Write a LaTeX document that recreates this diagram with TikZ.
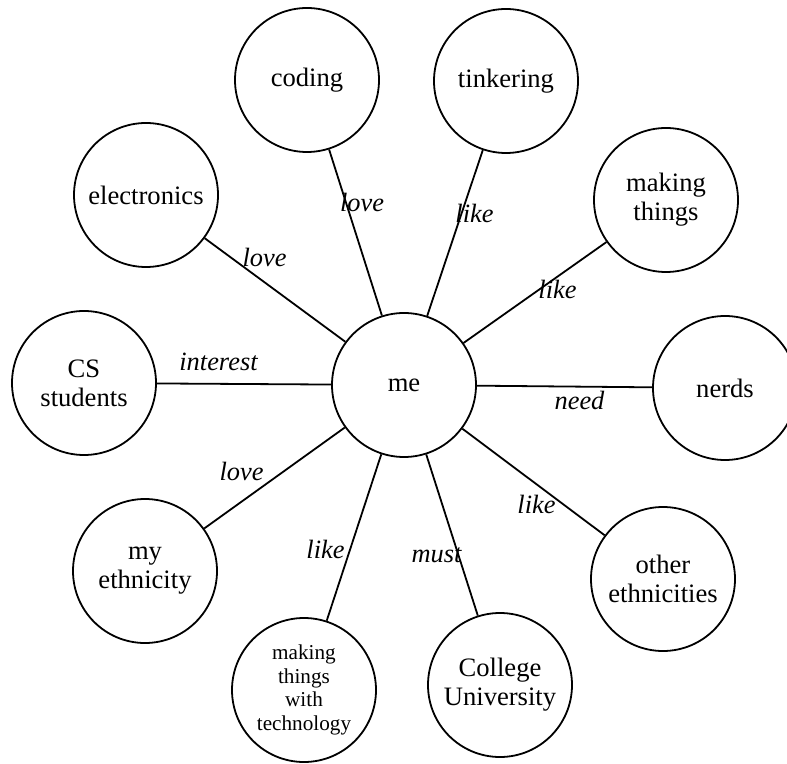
\documentclass[tikz,border=0pt]{standalone}
\usepackage{fontspec}
\setmainfont{Liberation Serif}
\begin{document}
\begin{tikzpicture}[x=0.5pt,y=-0.5pt,
  concept/.style={circle,draw,line width=0.9pt,minimum size=72pt,inner sep=0pt,
    align=center,font=\fontsize{13.3}{14.6}\selectfont},
  smallconcept/.style={concept,font=\fontsize{10.6}{11.8}\selectfont},
  link/.style={line width=0.9pt},
  rel/.style={anchor=base,inner sep=0pt,font=\fontsize{13.2}{14}\selectfont\itshape}]
\clip (0,0) rectangle (787,764);
\useasboundingbox (0,0) rectangle (787,764);

% central concept and its neighbours
\node[concept] (me) at (404,385) {me};
\node[concept] (coding) at (307,80) {coding};
\node[concept] (tinker) at (506,81) {tinkering};
\node[concept] (electronics) at (146,195) {electronics};
\node[concept] (making) at (666,200) {making\\things};
\node[concept] (cs) at (84,383) {CS\\students};
\node[concept] (nerds) at (725,388) {nerds};
\node[concept] (myeth) at (145,571) {my\\ethnicity};
\node[concept] (othereth) at (663,579) {other\\ethnicities};
\node[smallconcept] (tech) at (304,690) {making\\things\\with\\technology};
\node[concept] (college) at (500,685) {College\\University};

% relations
\draw[link] (me) -- (coding);
\draw[link] (me) -- (tinker);
\draw[link] (me) -- (electronics);
\draw[link] (me) -- (making);
\draw[link] (me) -- (cs);
\draw[link] (me) -- (nerds);
\draw[link] (me) -- (myeth);
\draw[link] (me) -- (othereth);
\draw[link] (me) -- (tech);
\draw[link] (me) -- (college);

% relation labels
\node[rel] (l1) at (362,212) {love};
\node[rel] (l2) at (474.5,222.7) {like};
\node[rel] (l3) at (264.5,267) {love};
\node[rel] (l4) at (557.5,298.3) {like};
\node[rel] (l5) at (218.5,370.7) {interest};
\node[rel] (l6) at (579.5,410) {need};
\node[rel] (l7) at (241.5,480.7) {love};
\node[rel] (l8) at (536.5,513.3) {like};
\node[rel] (l9) at (325.5,558.3) {like};
\node[rel] (l10) at (436.5,562.7) {must};
\end{tikzpicture}
\end{document}
